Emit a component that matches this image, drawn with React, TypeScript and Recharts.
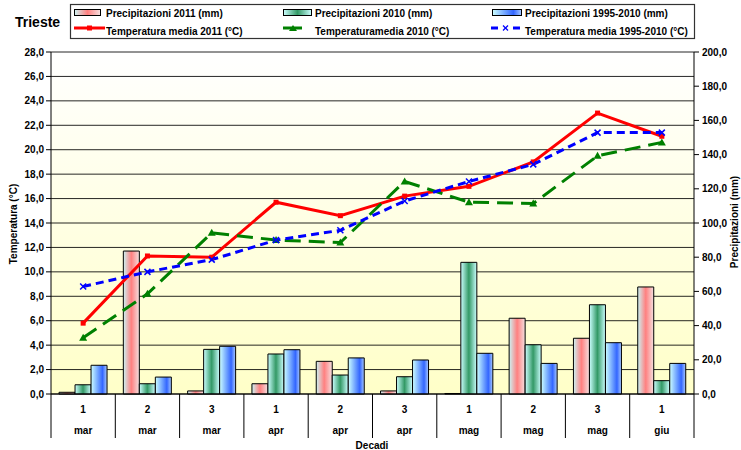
import { ComposedChart, Bar, Line, XAxis, YAxis, CartesianGrid } from "recharts";

// categories (decadi) and months
const decadi = ["1", "2", "3", "1", "2", "3", "1", "2", "3", "1"];
const mesi = ["mar", "mar", "mar", "apr", "apr", "apr", "mag", "mag", "mag", "giu"];

// precipitazioni (mm) - right axis
const prec2011 = [1.0, 83.6, 1.8, 6.0, 19.1, 1.8, 0.3, 44.3, 32.6, 62.6];
const prec2010 = [5.4, 6.0, 26.1, 23.4, 11.1, 10.1, 77.0, 28.8, 52.2, 7.8];
const prec9510 = [16.8, 9.9, 27.9, 25.9, 21.1, 19.9, 23.8, 17.9, 30.0, 17.9];

// temperature medie (°C) - left axis
const temp2011 = [5.8, 11.3, 11.2, 15.7, 14.6, 16.2, 17.0, 19.0, 23.0, 21.1];
const temp2010 = [4.6, 8.2, 13.2, 12.6, 12.4, 17.4, 15.7, 15.6, 19.5, 20.6];
const temp9510 = [8.8, 10.0, 11.0, 12.6, 13.4, 15.8, 17.4, 18.8, 21.4, 21.4];

const tempTicks = [0, 2, 4, 6, 8, 10, 12, 14, 16, 18, 20, 22, 24, 26, 28];
const precTicks = [0, 20, 40, 60, 80, 100, 120, 140, 160, 180, 200];

const data = decadi.map((d, i) => ({
  key: String(i),
  p2011: prec2011[i],
  p2010: prec2010[i],
  p9510: prec9510[i],
  t2011: temp2011[i],
  t2010: temp2010[i],
  t9510: temp9510[i],
}));

const FONT = "'Liberation Sans', Arial, sans-serif";
const fmt = (v: number) => v.toFixed(1).replace(".", ",");

const XTick = (props: any) => {
  const { x, y, payload, visibleTicksCount } = props;
  const i = payload.index;
  const band = 643 / (visibleTicksCount || 10);
  const half = band / 2;
  return (
    <g>
      <text x={x} y={y + 19} textAnchor="middle" fontFamily={FONT} fontSize={10} fontWeight="bold" fill="#000">
        {decadi[i]}
      </text>
      <text x={x} y={y + 40} textAnchor="middle" fontFamily={FONT} fontSize={10} fontWeight="bold" fill="#000">
        {mesi[i]}
      </text>
      <line x1={x + half} x2={x + half} y1={y} y2={y + 44} stroke="#000" strokeWidth={1} />
      {i === 0 && <line x1={x - half} x2={x - half} y1={y} y2={y + 44} stroke="#000" strokeWidth={1} />}
    </g>
  );
};

const SquareDot = (props: any) => {
  const { cx, cy } = props;
  if (cx == null || cy == null) return null;
  return <rect x={cx - 2.5} y={cy - 2.5} width={5} height={5} fill="#ff0000" />;
};

const TriDot = (props: any) => {
  const { cx, cy } = props;
  if (cx == null || cy == null) return null;
  return <polygon points={`${cx},${cy - 4} ${cx - 4},${cy + 3} ${cx + 4},${cy + 3}`} fill="#008000" />;
};

const XDot = (props: any) => {
  const { cx, cy } = props;
  if (cx == null || cy == null) return null;
  return (
    <g stroke="#0000ff" strokeWidth={1.5}>
      <line x1={cx - 3} y1={cy - 3} x2={cx + 3} y2={cy + 3} />
      <line x1={cx - 3} y1={cy + 3} x2={cx + 3} y2={cy - 3} />
    </g>
  );
};

const Gradients = () => (
  <defs>
    <linearGradient id="bgGrad" x1="0" y1="0" x2="0" y2="1">
      <stop offset="0%" stopColor="#ffffff" />
      <stop offset="100%" stopColor="#ffffc8" />
    </linearGradient>
    <linearGradient id="gRed" x1="0" y1="0" x2="1" y2="0">
      <stop offset="0%" stopColor="#ccf4f4" />
      <stop offset="50%" stopColor="#ff8080" />
      <stop offset="100%" stopColor="#f4e0e0" />
    </linearGradient>
    <linearGradient id="gGreen" x1="0" y1="0" x2="1" y2="0">
      <stop offset="0%" stopColor="#ccffff" />
      <stop offset="50%" stopColor="#339966" />
      <stop offset="100%" stopColor="#ccffff" />
    </linearGradient>
    <linearGradient id="gBlue" x1="0" y1="0" x2="1" y2="0">
      <stop offset="0%" stopColor="#ccffff" />
      <stop offset="72%" stopColor="#3366ff" />
      <stop offset="100%" stopColor="#aaccff" />
    </linearGradient>
  </defs>
);

const txt = { fontFamily: FONT, fontSize: 10, fontWeight: "bold" as const, fill: "#000" };

const Overlay = () => (
  <svg width={741} height={450} style={{ position: "absolute", left: 0, top: 0, pointerEvents: "none" }}>
    <text x={15} y={27} fontFamily={FONT} fontSize={14} fontWeight="bold" fill="#000">Trieste</text>
    <rect x={70.5} y={4.5} width={624} height={34} fill="#fff" stroke="#333" strokeWidth={1.2} />
    {/* bar swatches */}
    <rect x={74.5} y={9.5} width={26} height={6} fill="url(#gRed)" stroke="#000" />
    <rect x={283.5} y={9.5} width={28} height={6} fill="url(#gGreen)" stroke="#000" />
    <rect x={492.5} y={9.5} width={29} height={6} fill="url(#gBlue)" stroke="#000" />
    <text x={106} y={17} {...txt}>Precipitazioni 2011 (mm)</text>
    <text x={315} y={17} {...txt}>Precipitazioni 2010 (mm)</text>
    <text x={525} y={17} {...txt}>Precipitazioni 1995-2010 (mm)</text>
    {/* line swatches */}
    <line x1={74} x2={105} y1={28} y2={28} stroke="#ff0000" strokeWidth={3} />
    <rect x={87} y={25.5} width={5} height={5} fill="#ff0000" />
    <line x1={283} x2={302} y1={28} y2={28} stroke="#008000" strokeWidth={3} />
    <polygon points="293,25 289,31 297,31" fill="#008000" />
    <line x1={491} x2={498} y1={28} y2={28} stroke="#0000ff" strokeWidth={3} />
    <line x1={513} x2={520} y1={28} y2={28} stroke="#0000ff" strokeWidth={3} />
    <g stroke="#0000ff" strokeWidth={1.3}>
      <line x1={503} y1={25.5} x2={508} y2={30.5} />
      <line x1={503} y1={30.5} x2={508} y2={25.5} />
    </g>
    <text x={106} y={35} {...txt}>Temperatura media 2011 (°C)</text>
    <text x={315} y={35} {...txt}>Temperaturamedia 2010 (°C)</text>
    <text x={525} y={35} {...txt}>Temperatura media 1995-2010 (°C)</text>
    {/* axis titles */}
    <text x={0} y={0} transform="translate(17,224) rotate(-90)" textAnchor="middle" {...txt}>Temperatura (°C)</text>
    <text x={0} y={0} transform="translate(738,222) rotate(-90)" textAnchor="middle" {...txt}>Precipitazioni (mm)</text>
    <text x={372} y={448.5} textAnchor="middle" {...txt}>Decadi</text>
  </svg>
);

const App = () => {
  return (
    <div style={{ position: "absolute", left: 0, top: 0, width: 741, height: 450, background: "#fff" }}>
      <ComposedChart
        width={741}
        height={450}
        data={data}
        margin={{ top: 52, right: 0, bottom: 0, left: 0 }}
        barCategoryGap="12.5%"
        barGap={0}
      >
        <Gradients />
        <CartesianGrid
          yAxisId="left"
          vertical={false}
          stroke="#000"
          strokeOpacity={0.85}
          fill="url(#bgGrad)"
          fillOpacity={1}
        />
        <XAxis
          dataKey="key"
          height={56}
          interval={0}
          tickLine={false}
          tickSize={0}
          tickMargin={0}
          axisLine={{ stroke: "#000" }}
          tick={<XTick />}
        />
        <YAxis
          yAxisId="left"
          width={51}
          domain={[0, 28]}
          ticks={tempTicks}
          tickFormatter={fmt}
          tickSize={5}
          tickMargin={2}
          axisLine={{ stroke: "#000" }}
          tickLine={{ stroke: "#000" }}
          tick={{ fontFamily: FONT, fontSize: 10, fontWeight: "bold", fill: "#000" }}
          interval={0}
        />
        <YAxis
          yAxisId="right"
          orientation="right"
          width={47}
          domain={[0, 200]}
          ticks={precTicks}
          tickFormatter={fmt}
          tickSize={5}
          tickMargin={3}
          axisLine={{ stroke: "#000" }}
          tickLine={{ stroke: "#000" }}
          tick={{ fontFamily: FONT, fontSize: 10, fontWeight: "bold", fill: "#000" }}
          interval={0}
        />
        <Bar yAxisId="right" dataKey="p2011" fill="url(#gRed)" stroke="#000" strokeWidth={1} isAnimationActive={false} />
        <Bar yAxisId="right" dataKey="p2010" fill="url(#gGreen)" stroke="#000" strokeWidth={1} isAnimationActive={false} />
        <Bar yAxisId="right" dataKey="p9510" fill="url(#gBlue)" stroke="#000" strokeWidth={1} isAnimationActive={false} />
        <Line
          yAxisId="left"
          type="linear"
          dataKey="t2011"
          stroke="#ff0000"
          strokeWidth={3}
          dot={<SquareDot />}
          activeDot={false}
          isAnimationActive={false}
        />
        <Line
          yAxisId="left"
          type="linear"
          dataKey="t2010"
          stroke="#008000"
          strokeWidth={3}
          strokeDasharray="16 8"
          dot={<TriDot />}
          activeDot={false}
          isAnimationActive={false}
        />
        <Line
          yAxisId="left"
          type="linear"
          dataKey="t9510"
          stroke="#0000ff"
          strokeWidth={3}
          strokeDasharray="8 5"
          dot={<XDot />}
          activeDot={false}
          isAnimationActive={false}
        />
      </ComposedChart>
      <Overlay />
    </div>
  );
};

export default App;
